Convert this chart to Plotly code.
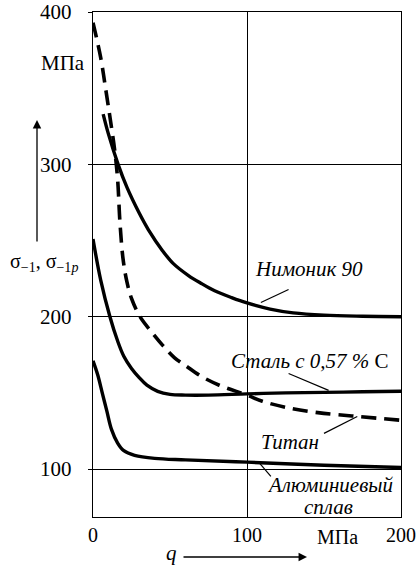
import plotly.graph_objects as go

# ---- data ----
nimonik_q = [6.6, 10, 16.3, 22, 30, 36, 45, 52, 62, 70, 79, 90, 100, 115, 130, 150, 175, 200]
nimonik_s = [333, 320, 300, 285, 268, 257, 243.5, 235, 227, 222, 217, 212.5, 209, 205, 202.5, 201, 200.3, 200]

steel_q = [0, 5, 11, 16, 20, 25, 30, 35, 42, 50, 60, 75, 100, 125, 150, 175, 200]
steel_s = [251, 224, 200, 184, 174, 166, 160, 155, 151, 149, 148.5, 148.5, 149.3, 150, 150.3, 150.7, 151]

titan_q = [0, 5, 8, 11, 14, 16, 17.5, 19.5, 22, 25, 30.5, 38, 45.4, 53, 60.6, 70, 82, 100, 110, 125, 146, 172, 200]
titan_s = [393, 370, 351, 331, 310, 290, 262, 238, 223, 212, 200, 190, 181, 173, 167.5, 161, 155, 148.5, 144.5, 140.5, 137, 134.5, 132]

alum_q = [0, 3, 6, 9, 12, 16, 20, 27, 40, 60, 100, 150, 200]
alum_s = [171, 162, 150, 138, 126, 117, 112, 109, 107, 106, 104.5, 102.5, 101]

y_ticks = [100, 200, 300, 400]
x_ticks = [0, 100, 200]

FONT = "Liberation Serif"
W, H = 417, 568
ML, MR, MT, MB = 93, 16, 12, 51
PW, PH = W - ML - MR, H - MT - MB

def px(xp):
    return (xp - ML) / PW

def py(yp):
    return 1 - (yp - MT) / PH

fig = go.Figure()
line = dict(color="black", width=3.4, shape="spline", smoothing=1.0)
fig.add_trace(go.Scatter(x=nimonik_q, y=nimonik_s, mode="lines", line=line, name="Нимоник 90"))
fig.add_trace(go.Scatter(x=steel_q, y=steel_s, mode="lines", line=line, name="Сталь"))
fig.add_trace(go.Scatter(x=alum_q, y=alum_s, mode="lines", line=line, name="Алюминиевый сплав"))
fig.add_trace(go.Scatter(x=titan_q, y=titan_s, mode="lines",
                         line=dict(color="black", width=3.6, dash="15px,8px", shape="spline", smoothing=1.0),
                         name="Титан"))

# leader lines (data coords)
leaders = [
    ((127, 217.8), (109, 209.3)),
    ((127, 162.7), (153, 151.6)),
    ((150, 123.4), (171.6, 134.5)),
    ((115.5, 95.2), (107.7, 104.4)),
]
for (x0, y0), (x1, y1) in leaders:
    fig.add_shape(type="line", x0=x0, y0=y0, x1=x1, y1=y1, xref="x", yref="y",
                  line=dict(color="black", width=1.2))

tf = dict(family=FONT, size=21, color="black")
labels = [
    (140, 231, "<i>Нимоник 90</i>"),
    (141, 170.6, "<i>Сталь с 0,57 %</i> С"),
    (128, 118, "<i>Титан</i>"),
    (154, 89.3, "<i>Алюминиевый</i>"),
    (153, 75, "<i>сплав</i>"),
]
for x, y, t in labels:
    fig.add_annotation(x=x, y=y, xref="x", yref="y", text=t, showarrow=False, font=tf,
                       xanchor="center", yanchor="middle")

af = dict(family=FONT, size=21, color="black")
paper_labels = [
    (63, 63, "МПа", af),
    (337, 537, "МПа", dict(family=FONT, size=20, color="black")),
    (44, 262, "σ<sub>−1</sub>, σ<sub>−1<i>p</i></sub>", dict(family=FONT, size=20, color="black")),
    (171, 553, "<i>q</i>", af),
]
for xp, yp, t, f in paper_labels:
    fig.add_annotation(x=px(xp), y=py(yp), xref="paper", yref="paper", text=t, showarrow=False,
                       font=f, xanchor="center", yanchor="middle")
# arrows
fig.add_annotation(x=px(37), y=py(120), xref="paper", yref="paper", ax=0, ay=123,
                   axref="pixel", ayref="pixel", text="", showarrow=True, arrowhead=2,
                   arrowsize=1.3, arrowwidth=1.3, arrowcolor="black")
fig.add_annotation(x=px(307), y=py(557), xref="paper", yref="paper", ax=-125, ay=0,
                   axref="pixel", ayref="pixel", text="", showarrow=True, arrowhead=2,
                   arrowsize=1.3, arrowwidth=1.3, arrowcolor="black")

fig.update_layout(
    width=W, height=H, margin=dict(l=ML, r=MR, t=MT, b=MB, autoexpand=False),
    paper_bgcolor="white", plot_bgcolor="white", showlegend=False,
    font=dict(family=FONT, size=21, color="black"),
)
fig.update_xaxes(range=[0, 200], tickvals=x_ticks, ticktext=[str(v) for v in x_ticks],
                 showgrid=True, gridcolor="black", gridwidth=1.2, automargin=False,
                 showline=True, linecolor="black", linewidth=1.4, mirror=True,
                 ticks="", ticklabelstandoff=0, zeroline=False, ticklabeloverflow="allow",
                 tickfont=dict(family=FONT, size=20, color="black"))
fig.update_yaxes(range=[68.5, 400], tickvals=y_ticks, ticktext=[str(v) for v in y_ticks],
                 showgrid=True, gridcolor="black", gridwidth=1.2, automargin=False,
                 showline=True, linecolor="black", linewidth=1.4, mirror=True,
                 ticks="outside", ticklen=4, tickcolor="black", tickwidth=1.2,
                 ticklabelstandoff=12, zeroline=False, ticklabeloverflow="allow",
                 tickfont=dict(family=FONT, size=21, color="black"))

fig.write_html("out.html", config={"displayModeBar": False},
               post_script="document.body.style.margin='0';document.body.style.overflow='hidden';")
